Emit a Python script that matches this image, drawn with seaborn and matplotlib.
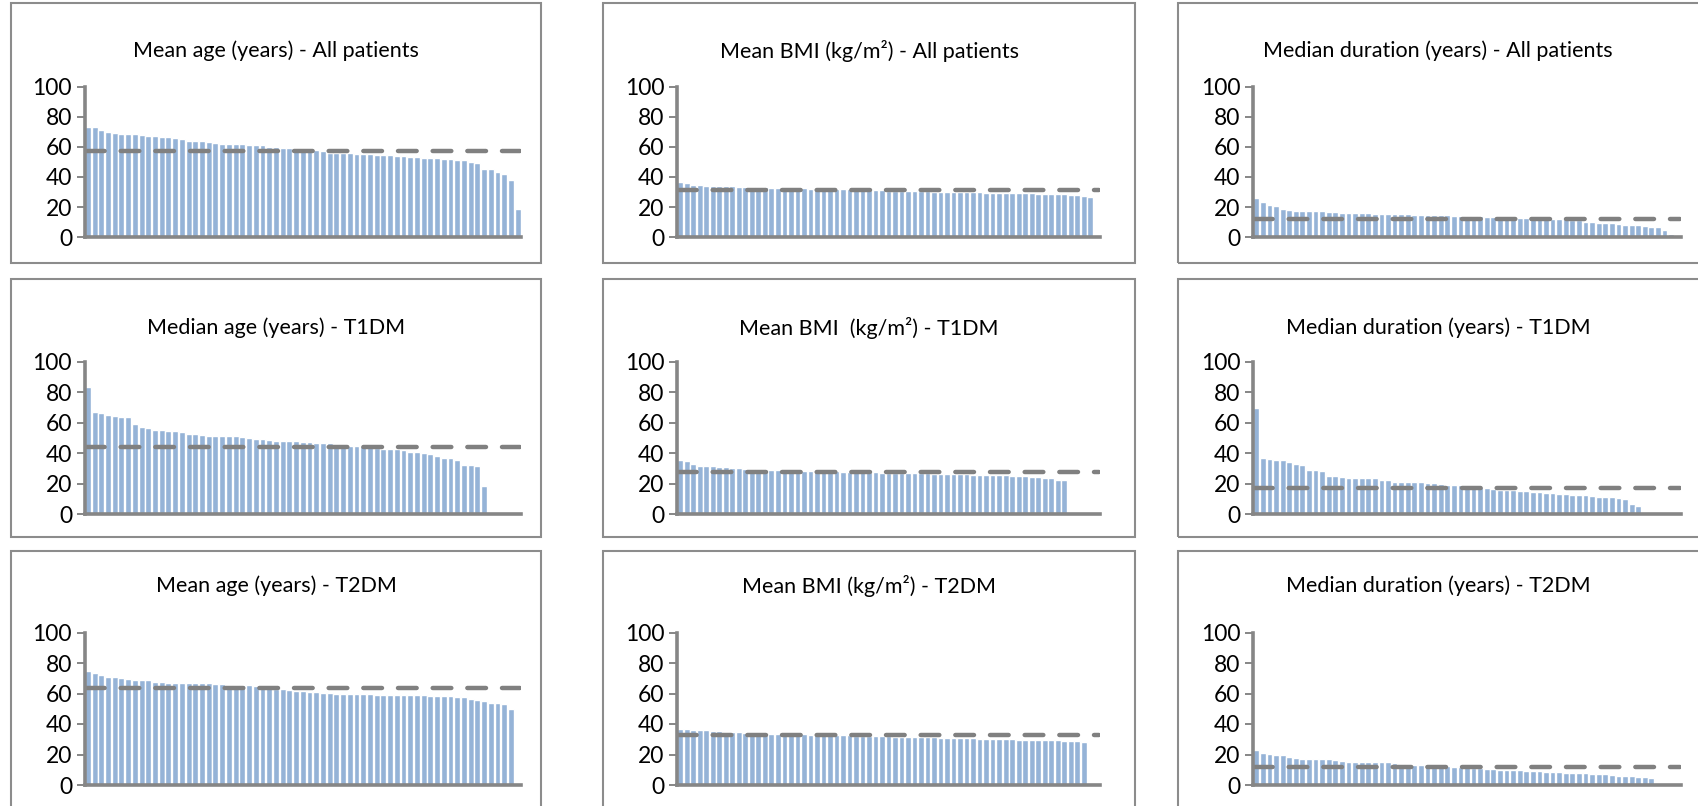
import numpy as np
import matplotlib
matplotlib.use("Agg")
import matplotlib.pyplot as plt
from matplotlib.patches import Rectangle
import seaborn as sns

# values, sorted high to low, one list per panel
age_all = [73.5, 73.2, 71.5, 70.0, 69.3, 68.7, 68.5, 68.2, 68.0, 67.5,
           67.0, 66.8, 66.3, 66.0, 65.5, 64.2, 64.0, 63.8, 63.3, 62.5,
           62.2, 62.0, 61.7, 61.6, 61.5, 61.4, 61.3, 60.2, 59.7, 59.5,
           59.3, 58.6, 58.3, 58.0, 57.6, 57.4, 56.2, 56.0, 55.8, 55.6,
           55.4, 55.2, 55.0, 54.8, 54.6, 54.3, 54.0, 53.6, 53.4, 53.1,
           52.9, 52.5, 52.3, 52.0, 51.6, 51.4, 51.0, 49.8, 49.2, 45.3,
           45.1, 43.0, 42.0, 38.3, 18.5]
bmi_all = [36.5, 35.8, 34.5, 34.4, 34.3, 34.1, 34.0, 33.9, 33.8, 33.6,
           33.4, 33.3, 33.2, 33.1, 33.0, 32.8, 32.7, 32.6, 32.5, 32.4,
           32.3, 32.2, 32.1, 32.0, 32.0, 31.9, 31.8, 31.6, 31.5, 31.3,
           31.2, 31.1, 31.0, 30.9, 30.8, 30.7, 30.6, 30.5, 30.4, 30.3,
           30.2, 30.1, 30.0, 30.0, 29.9, 29.8, 29.7, 29.6, 29.5, 29.5,
           29.4, 29.3, 29.3, 29.2, 29.1, 29.0, 29.0, 28.9, 28.7, 28.5,
           28.2, 27.8, 27.4, 27.0]
dur_all = [26.0, 23.3, 21.5, 20.5, 18.8, 18.0, 17.3, 17.2, 17.2, 17.1,
           17.1, 16.6, 16.5, 16.4, 16.3, 16.3, 16.2, 16.2, 15.6, 15.5,
           15.4, 15.4, 15.3, 15.2, 14.8, 14.7, 14.6, 14.6, 14.5, 14.5,
           14.4, 14.4, 14.2, 13.9, 13.8, 13.7, 13.6, 13.5, 13.4, 13.1,
           12.8, 12.6, 12.5, 12.4, 12.2, 12.1, 12.0, 11.9, 11.4, 11.2,
           10.3, 10.0, 9.5, 9.4, 9.2, 8.5, 8.2, 8.1, 8.0, 7.3,
           7.0, 6.5, 5.0, 2.0, 1.5]
age_t1 = [83.5, 67.0, 66.3, 65.3, 64.3, 63.8, 63.6, 59.0, 57.2, 56.4,
          55.4, 55.0, 54.9, 54.8, 53.8, 52.5, 52.4, 52.3, 51.6, 51.5,
          51.4, 51.4, 51.3, 50.4, 49.8, 49.6, 49.1, 48.4, 48.3, 48.2,
          48.2, 48.0, 47.6, 47.3, 47.0, 46.8, 46.5, 45.9, 45.4, 45.0,
          44.9, 44.7, 44.0, 43.6, 43.0, 42.8, 42.7, 42.5, 41.0, 40.8,
          40.5, 39.6, 38.2, 37.1, 36.8, 35.6, 32.4, 32.2, 31.4, 18.4]
bmi_t1 = [35.5, 35.0, 32.8, 32.0, 31.9, 31.5, 31.2, 30.8, 30.4, 30.1,
          29.9, 29.7, 29.5, 29.4, 29.3, 29.2, 29.0, 28.9, 28.8, 28.7,
          28.6, 28.5, 28.4, 28.2, 28.1, 28.0, 27.9, 27.8, 27.7, 27.6,
          27.5, 27.4, 27.3, 27.2, 27.1, 27.0, 26.9, 26.9, 26.8, 26.7,
          26.6, 26.5, 26.4, 26.3, 26.2, 26.0, 25.9, 25.8, 25.7, 25.6,
          25.5, 25.3, 25.1, 24.9, 24.7, 24.4, 24.1, 23.6, 22.8, 22.3]
dur_t1 = [70.0, 37.2, 36.6, 35.9, 35.8, 34.3, 33.2, 32.3, 29.3, 29.2,
          28.2, 25.3, 25.2, 24.7, 24.1, 24.0, 24.0, 23.9, 23.9, 22.7,
          22.3, 21.5, 21.4, 21.4, 21.3, 21.2, 20.7, 20.4, 20.1, 19.5,
          19.1, 19.0, 18.9, 18.5, 18.1, 17.0, 16.5, 16.3, 16.0, 15.8,
          15.6, 15.4, 14.9, 14.5, 14.2, 13.9, 13.6, 13.4, 13.0, 12.5,
          12.4, 12.3, 11.5, 11.4, 11.3, 10.8, 9.9, 7.1, 5.8, 0.9]
age_t2 = [75.0, 73.5, 72.2, 70.6, 70.5, 70.0, 69.2, 69.1, 68.9, 68.8,
          67.8, 67.5, 67.2, 67.1, 67.0, 67.0, 66.9, 66.8, 66.6, 66.5,
          66.2, 65.9, 65.8, 65.6, 65.5, 65.2, 64.8, 64.4, 63.0, 62.8,
          62.0, 61.6, 61.4, 61.2, 60.8, 60.5, 60.3, 60.0, 59.8, 59.7,
          59.6, 59.5, 59.4, 59.3, 59.3, 59.2, 59.1, 59.0, 58.9, 58.8,
          58.7, 58.6, 58.5, 58.4, 58.2, 57.8, 57.4, 56.3, 55.8, 55.4,
          54.0, 53.6, 53.1, 50.0]
bmi_t2 = [36.8, 36.7, 36.3, 36.0, 35.8, 35.6, 35.3, 35.0, 34.8, 34.6,
          34.3, 34.1, 34.0, 33.8, 33.7, 33.6, 33.5, 33.4, 33.3, 33.2,
          33.1, 33.0, 32.9, 32.8, 32.7, 32.6, 32.5, 32.4, 32.3, 32.2,
          32.1, 32.0, 31.9, 31.8, 31.7, 31.6, 31.5, 31.4, 31.3, 31.2,
          31.0, 30.9, 30.8, 30.7, 30.6, 30.5, 30.4, 30.3, 30.2, 30.1,
          30.0, 29.9, 29.8, 29.7, 29.6, 29.5, 29.4, 29.3, 29.2, 29.1,
          29.0, 28.8, 28.5]
dur_t2 = [23.0, 21.2, 20.3, 19.6, 19.4, 18.4, 17.8, 17.2, 17.1, 17.1,
          17.0, 17.0, 16.3, 15.7, 15.3, 15.1, 15.0, 14.9, 14.9, 14.8,
          14.8, 14.2, 13.8, 13.6, 13.4, 13.2, 13.0, 12.6, 12.4, 12.2,
          12.0, 11.9, 11.6, 11.3, 11.0, 10.6, 10.3, 10.0, 9.9, 9.8,
          9.7, 9.5, 9.2, 9.0, 8.8, 8.7, 8.5, 8.0, 7.8, 7.7,
          7.6, 7.5, 7.2, 6.9, 6.5, 6.2, 5.9, 5.8, 5.5, 5.2,
          4.8, 1.6, 1.4]

# overall mean / median shown as the dashed line
ref_lines = [57.0, 31.5, 12.2, 44.3, 27.7, 17.5, 63.5, 32.8, 12.0]

titles = ["Mean age (years) - All patients", "Mean BMI (kg/m\u00b2) - All patients",
          "Median duration (years) - All patients",
          "Median age (years) - T1DM", "Mean BMI  (kg/m\u00b2) - T1DM",
          "Median duration (years) - T1DM",
          "Mean age (years) - T2DM", "Mean BMI (kg/m\u00b2) - T2DM",
          "Median duration (years) - T2DM"]
series = [age_all, bmi_all, dur_all, age_t1, bmi_t1, dur_t1, age_t2, bmi_t2, dur_t2]
n_slots = 65

W, H = 1698, 806
sns.set_theme(style="white")
plt.rcParams['font.family'] = ['Lato', 'DejaVu Sans']

fig = plt.figure(figsize=(W / 100, H / 100), dpi=100)

col_x = [(84.5, 521), (677, 1100), (1253, 1681)]
row_y = [(86.6, 237.2), (361.7, 514.4), (632.5, 785)]
box_x = [(11, 541), (603, 1135), (1178, 1710)]
box_y = [(3, 263), (279, 537), (551, 820)]
title_x = [276, 869, 1438]
title_y = [51, 328, 586]

bar_col = "#95b3d7"
axis_col = "#868686"

for i in range(9):
    r, c = divmod(i, 3)
    x0, x1 = col_x[c]
    y0, y1 = row_y[r]
    ax = fig.add_axes([x0 / W, 1 - y1 / H, (x1 - x0) / W, (y1 - y0) / H])
    vals = series[i]
    sns.barplot(x=np.arange(len(vals)), y=vals, color=bar_col, saturation=1,
                width=0.88, ax=ax)
    ax.plot([-0.3, n_slots - 0.6], [ref_lines[i]] * 2, color="#808080", lw=3.2,
            ls=(0, (4.2, 3.6)), dash_capstyle="round", solid_capstyle="round")
    ax.set_xlim(-0.5, n_slots - 0.5)
    ax.set_ylim(0, 100)
    ax.set_yticks([0, 20, 40, 60, 80, 100])
    ax.set_xticks([])
    ax.set_xlabel("")
    ax.set_ylabel("")
    for s in ["top", "right"]:
        ax.spines[s].set_visible(False)
    for s in ["left", "bottom"]:
        ax.spines[s].set_color(axis_col)
        ax.spines[s].set_linewidth(2.6)
    ax.tick_params(axis="y", length=6, width=1.4, color=axis_col, pad=3,
                   labelsize=16.5, labelcolor="black", left=True)

    bx0, bx1 = box_x[c]
    by0, by1 = box_y[r]
    fig.patches.append(Rectangle((bx0 / W, 1 - by1 / H), (bx1 - bx0) / W, (by1 - by0) / H,
                                 transform=fig.transFigure, fill=False,
                                 edgecolor="#8c8c8c", lw=1.5))
    fig.text(title_x[c] / W, 1 - title_y[r] / H, titles[i], ha="center", va="center",
             fontsize=15.5, color="black")

plt.savefig("out.png", dpi=100)
